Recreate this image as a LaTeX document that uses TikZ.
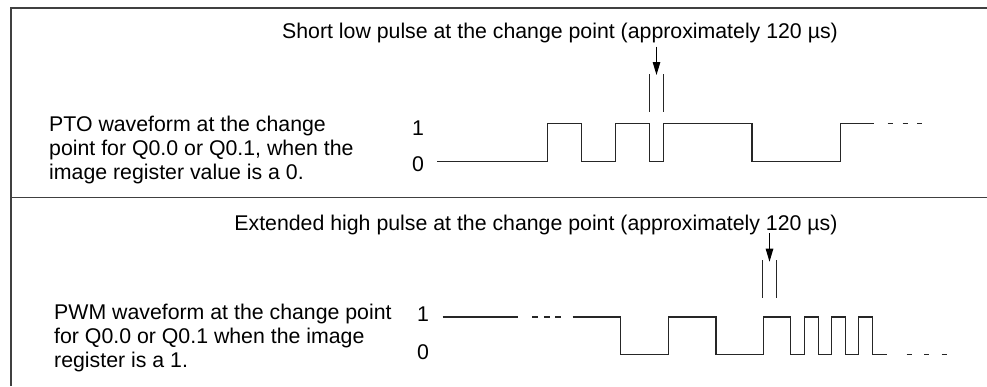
\documentclass[tikz,border=0pt]{standalone}
\usepackage{fontspec}
\setmainfont{Liberation Sans}
\usetikzlibrary{arrows.meta}
\begin{document}
\begin{tikzpicture}[x=1pt,y=-1pt,
  frame/.style={line width=1.6pt,draw=black!75},
  wave/.style={line width=1.1pt,draw=black!85},
  marker/.style={line width=1.1pt,draw=black!85},
  pointer/.style={line width=1.1pt,draw=black,-{Triangle[length=13pt,width=7.5pt]}},
  txt/.style={inner sep=0pt,font=\fontsize{21.3}{24.2}\selectfont},
  lbl/.style={txt,anchor=base}]
\useasboundingbox (0,0) rectangle (987,386);
% frame
\draw[frame] (11,386) -- (11,8) -- (987,8);
\draw[frame] (11,197.5) -- (987,197.5);

% ---------- top panel ----------
\node[txt,anchor=base] (t1) at (560,38.5) {Short low pulse at the change point (approximately 120 µs)};
\node[txt,anchor=north west,align=left] (d1) at (49,115.5) {PTO waveform at the change\\point for Q0.0 or Q0.1, when the\\image register value is a 0.};
\node[lbl] (one1) at (418,135) {1};
\node[lbl] (zero1) at (418,171.5) {0};
\draw[wave] (437,161.3) -- (547.7,161.3) -- (547.7,123.3) -- (581.7,123.3) -- (581.7,161.3)
  -- (615.7,161.3) -- (615.7,123.3) -- (649.7,123.3) -- (649.7,161.3) -- (663.3,161.3)
  -- (663.3,123.3) -- (752,123.3) -- (752,161.3) -- (840.3,161.3) -- (840.3,123.3) -- (874.3,123.3);
\draw[wave,dash pattern=on 5pt off 9.8pt] (887.7,123.3) -- (922.3,123.3);
\draw[marker] (649.7,74) -- (649.7,111.7);
\draw[marker] (663.3,74) -- (663.3,111.7);
\coordinate (a1s) at (656.5,46.7);
\coordinate (a1e) at (656.5,75);
\draw[pointer] (a1s) -- (a1e);

% ---------- bottom panel ----------
\node[txt,anchor=base] (t2) at (536,230.5) {Extended high pulse at the change point (approximately 120 µs)};
\node[txt,anchor=north west,align=left] (d2) at (54,303.5) {PWM waveform at the change point\\for Q0.0 or Q0.1 when the image\\register is a 1.};
\node[lbl] (one2) at (423,321.7) {1};
\node[lbl] (zero2) at (423,359.5) {0};
\draw[wave] (442.7,317) -- (518.3,317);
\draw[wave,dash pattern=on 6pt off 5.5pt] (532.3,317) -- (561.3,317);
\draw[wave] (572.7,317) -- (620.3,317) -- (620.3,354.7) -- (668.7,354.7) -- (668.7,317)
  -- (716,317) -- (716,354.7) -- (763.3,354.7) -- (763.3,317) -- (790.3,317) -- (790.3,354.7)
  -- (804.3,354.7) -- (804.3,317) -- (818.3,317) -- (818.3,354.7) -- (831.7,354.7)
  -- (831.7,317) -- (845.3,317) -- (845.3,354.7) -- (858.7,354.7) -- (858.7,317)
  -- (872.3,317) -- (872.3,354.7) -- (886.7,354.7);
\draw[wave,dash pattern=on 5pt off 12.5pt] (906.7,354.7) -- (946.7,354.7);
\draw[marker] (762.7,260) -- (762.7,298.3);
\draw[marker] (776.3,260) -- (776.3,298.3);
\coordinate (a2s) at (769.5,233);
\coordinate (a2e) at (769.5,261.7);
\draw[pointer] (a2s) -- (a2e);
\end{tikzpicture}
\end{document}
